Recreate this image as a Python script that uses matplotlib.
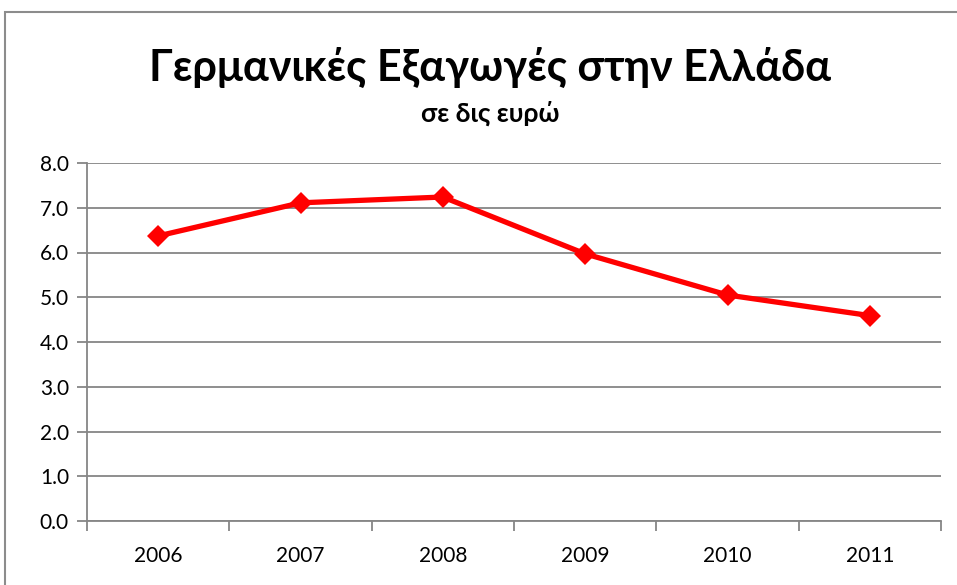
import matplotlib
matplotlib.use("Agg")
import matplotlib.pyplot as plt
from matplotlib.patches import Rectangle

years = ["2006", "2007", "2008", "2009", "2010", "2011"]
values = [6.37, 7.11, 7.24, 5.97, 5.05, 4.59]
yticks = [0.0, 1.0, 2.0, 3.0, 4.0, 5.0, 6.0, 7.0, 8.0]
title = "Γερμανικές Εξαγωγές στην Ελλάδα"
subtitle = "σε δις ευρώ"

plt.rcParams['font.family'] = ['Lato', 'DejaVu Sans']

W, H = 957, 585
fig = plt.figure(figsize=(W / 100, H / 100), dpi=100)

# chart frame
fig.patches.append(Rectangle((5 / W, -0.05), 1.2, 1.05 - 12 / H, transform=fig.transFigure,
                             fill=False, edgecolor="#8c8c8c", linewidth=1.5))

left, right, top, bottom = 87, 941, 163, 521
ax = fig.add_axes([left / W, 1 - bottom / H, (right - left) / W, (bottom - top) / H])

x = list(range(len(years)))
ax.plot(x, values, color="#ff0000", linewidth=3.8, marker="D", markersize=11,
        markeredgewidth=0, zorder=3, clip_on=False)

ax.set_xlim(-0.5, len(years) - 0.5)
ax.set_ylim(0, 8)
ax.set_yticks(yticks)
ax.set_yticklabels([f"{v:.1f}" for v in yticks])
ax.set_xticks(x)
ax.set_xticklabels(years)
ax.set_xticks([i - 0.5 for i in range(len(years) + 1)], minor=True)

ax.grid(axis="y", color="#868686", linewidth=1.3)
ax.set_axisbelow(True)
for s in ["top", "right"]:
    ax.spines[s].set_visible(False)
for s in ["left", "bottom"]:
    ax.spines[s].set_color("#868686")
    ax.spines[s].set_linewidth(1.3)

ax.tick_params(axis="y", length=7, color="#868686", width=1.3, labelsize=15, pad=6)
ax.tick_params(axis="x", which="major", length=0, labelsize=15, pad=18)
ax.tick_params(axis="x", which="minor", length=7, color="#868686", width=1.3)

fig.text(490 / W, 1 - 67 / H, title, ha="center", va="center", fontsize=31, fontweight="bold")
fig.text(490 / W, 1 - 113 / H, subtitle, ha="center", va="center", fontsize=19, fontweight="bold")

fig.savefig("out.png", dpi=100)
